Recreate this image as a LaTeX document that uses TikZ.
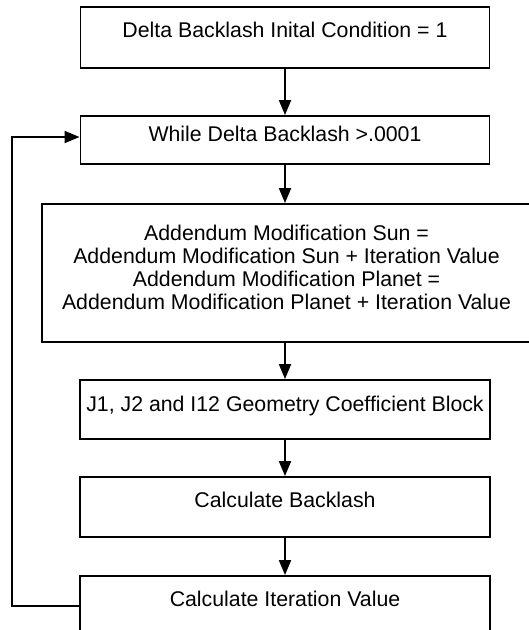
\documentclass[tikz,border=0pt]{standalone}
\usepackage{fontspec}
\setmainfont{Liberation Sans}
\usetikzlibrary{arrows.meta}

\begin{document}
\begin{tikzpicture}[x=1pt, y=-1pt,
  box/.style={draw, line width=1.9pt, inner sep=0pt},
  txt/.style={font=\fontsize{21.3}{22.9}\selectfont, align=center, inner sep=0pt},
  flow/.style={line width=1.9pt, -{Triangle[length=15pt, width=12pt]}}]
  \useasboundingbox (0,0) rectangle (529,630);
  \clip (0,0) rectangle (529,630);

  % process boxes
  \node[box, minimum width=409pt, minimum height=61pt]  (init)  at (285,37.5) {};
  \node[box, minimum width=409pt, minimum height=48pt]  (while) at (285,140) {};
  \node[box, minimum width=489pt, minimum height=138pt] (addm)  at (286.5,273) {};
  \node[box, minimum width=410pt, minimum height=59pt]  (geom)  at (285,409.5) {};
  \node[box, minimum width=410pt, minimum height=60pt]  (calcb) at (285,507) {};
  \node[box, minimum width=410pt, minimum height=60pt]  (calci) at (285,606) {};

  % box texts
  \node[txt, anchor=base] (t1) at (init.center) {Delta Backlash Inital Condition = 1};
  \node[txt, anchor=base] (t2) at ([yshift=-1.3pt]while.center) {While Delta Backlash >.0001};
  \node[txt] (t3) at ([yshift=5.5pt]addm.center) {Addendum Modification Sun =\\
    Addendum Modification Sun + Iteration Value\\
    Addendum Modification Planet =\\
    Addendum Modification Planet + Iteration Value};
  \node[txt, anchor=base] (t4) at ([yshift=-2.2pt]geom.center) {J1, J2 and I12 Geometry Coefficient Block};
  \node[txt, anchor=base] (t5) at ([yshift=-0.7pt]calcb.center) {Calculate Backlash};
  \node[txt, anchor=base] (t6) at ([yshift=-0.7pt]calci.center) {Calculate Iteration Value};

  % connectors (one vertical spine through the box centres)
  \draw[flow] (init.south) -- (while.north);
  \draw[flow] (while.south) -- (while.south |- addm.north);
  \draw[flow] (geom.north |- addm.south) -- (geom.north);
  \draw[flow] (geom.south) -- (calcb.north);
  \draw[flow] (calcb.south) -- (calci.north);
  \draw[flow] (calci.west) -- ++(-67,0) |- ([yshift=3pt]while.west);
\end{tikzpicture}
\end{document}
